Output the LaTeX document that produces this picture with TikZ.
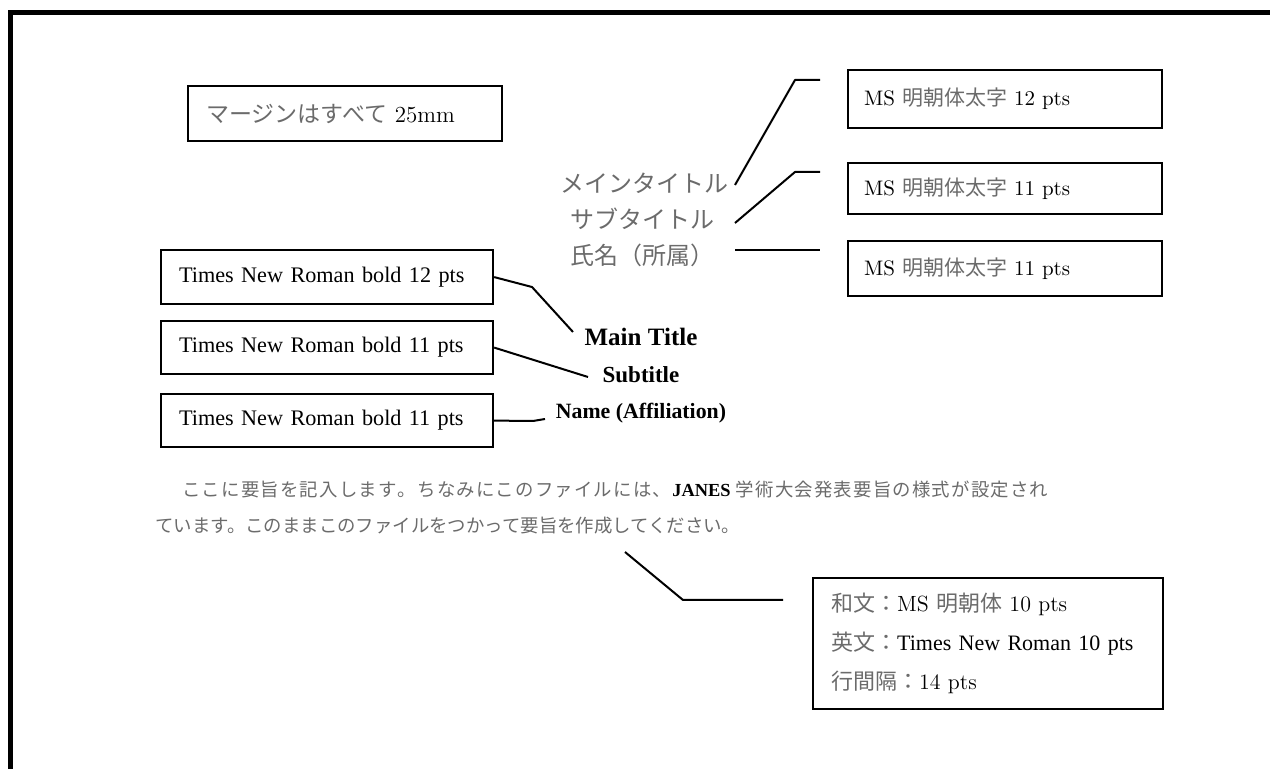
\documentclass[tikz,border=0pt]{standalone}
\usepackage{fontspec}
\newfontfamily\jpfont{Noto Sans CJK JP}
\newfontfamily\tnr{Liberation Serif}
\definecolor{jpgray}{gray}{0.42}
\newcommand\J[1]{{\jpfont\color{jpgray}#1}}
\makeatletter
\newcommand\spreadline[2]{\hbox to #1{\@tfor\@tmpc:=#2\do{\@tmpc\hfill}\unskip}}
\makeatother
\tikzset{
  box/.style={draw, line width=1.1pt, anchor=north west, inner xsep=9pt, inner ysep=0pt, align=left},
  conn/.style={line width=1pt, line join=round},
  lbl/.style={inner sep=0pt, anchor=center},
}
\begin{document}
\begin{tikzpicture}[x=0.5pt, y=-0.5pt]
\useasboundingbox (0,0) rectangle (1270,769);
% page edge
\draw[line width=2.5pt] (10.5,769) -- (10.5,12.5) -- (1270,12.5);

% margin note
\node[box, text width=139pt, minimum height=27.5pt, font=\fontsize{11.5}{13}\selectfont] (marg) at (187,85)
  {\J{マージンはすべて} 25mm};

% Japanese title labels
\node[lbl, font=\fontsize{12}{14}\selectfont] (jl1) at (644,183) {\J{メインタイトル}};
\node[lbl, font=\fontsize{12}{14}\selectfont] (jl2) at (642,219) {\J{サブタイトル}};
\node[lbl, font=\fontsize{12}{14}\selectfont] (jl3) at (642,255) {\J{氏名（所属）}};

% MS boxes
\tikzset{msbox/.style={box, inner xsep=8pt, text width=141pt, font=\fontsize{10.5}{12}\selectfont}}
\node[msbox, minimum height=29pt] (ms1) at (847,69) {MS \J{明朝体太字} 12 pts};
\node[msbox, minimum height=25.5pt] (ms2) at (847,162) {MS \J{明朝体太字} 11 pts};
\node[msbox, minimum height=27.5pt] (ms3) at (847,240) {MS \J{明朝体太字} 11 pts};

% connectors, right side
\coordinate (r1) at (735,185);
\coordinate (r1e) at (820,80);
\coordinate (r2) at (735,223);
\coordinate (r2e) at (820,172);
\coordinate (r3) at (735,250);
\coordinate (r3e) at (820,250);
\draw[conn] (r1) -- (795,80) -- (r1e);
\draw[conn] (r2) -- (795,172) -- (r2e);
\draw[conn] (r3) -- (r3e);

% Times boxes
\tikzset{tnbox/.style={box, text width=148pt, font=\fontsize{11.1}{13}\selectfont\tnr}}
\node[tnbox, minimum height=27pt] (tb1) at (160,249) {Times New Roman bold 12 pts};
\node[tnbox, minimum height=26.5pt] (tb2) at (160,320) {Times New Roman bold 11 pts};
\node[tnbox, minimum height=26.5pt] (tb3) at (160,393) {Times New Roman bold 11 pts};

% English title labels
\node[lbl, font=\fontsize{12.5}{14}\selectfont\tnr\bfseries] (mt) at (641,337) {Main Title};
\node[lbl, font=\fontsize{11.5}{13}\selectfont\tnr\bfseries] (st) at (641,375) {Subtitle};
\node[lbl, font=\fontsize{10.9}{13}\selectfont\tnr\bfseries] (na) at (641,413) {Name (Affiliation)};

% connectors, left side
\coordinate (l1e) at (573,332);
\coordinate (l2e) at (588,377);
\coordinate (l3e) at (545,419);
\draw[conn] (tb1.east) -- (532,287) -- (l1e);
\draw[conn] (tb2.east) -- (l2e);
\draw[conn] (tb3.east) -- (533,421) -- (l3e);

% abstract text
\node[anchor=west, inner sep=0pt, font=\fontsize{9.2}{11}\selectfont] (p1) at (182,490)
  {\jpfont\color{jpgray}\spreadline{433pt}{ここに要旨を記入します。ちなみにこのファイルには、{{\tnr\bfseries\color{black}JANES}\ }学術大会発表要旨の様式が設定され}};
\node[anchor=west, inner sep=0pt, font=\fontsize{9.2}{11}\selectfont] (p2) at (155,526)
  {\J{ています。このままこのファイルをつかって要旨を作成してください。}};

% bottom box
\node[box, text width=157pt, minimum height=65.5pt, font=\fontsize{11}{19.5}\selectfont] (fmt) at (812,577)
  {\J{和文：}MS \J{明朝体} 10 pts\\
   \J{英文：}{\tnr Times New Roman 10 pts}\\
   \J{行間隔：}14 pts};

\coordinate (b1) at (625,552);
\coordinate (b1e) at (783,600);
\draw[conn] (b1) -- (683,600) -- (b1e);
\end{tikzpicture}
\end{document}
